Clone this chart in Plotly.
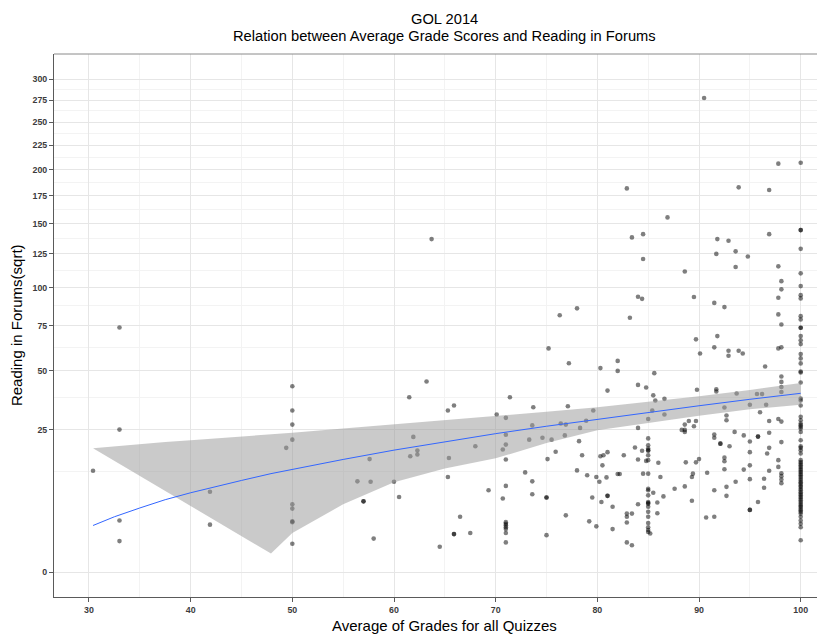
import numpy as np
import plotly.graph_objects as go

# ---------------- data (original units) ----------------
# columns of students sharing the same quiz average
reads_at_100 = [206.8, 144.4, 144.4, 129.0, 110.2, 101.0, 94.7, 92.5, 80.9, 78.8, 73.7, 73.7,
                68.8, 66.4, 64.2, 58.7, 56.4, 53.8, 49.7, 49.2, 44.4, 37.2, 36.4, 34.3, 29.8,
                28.5, 27.3, 26.7, 26.1, 25.5, 24.3, 21.5, 19.6, 19.1, 18.4, 17.4, 15.5, 15.0,
                14.6, 14.1, 13.7, 13.2, 12.8, 12.4, 12.0, 11.6, 11.2, 10.8, 10.4, 10.0, 9.7,
                9.3, 9.0, 8.6, 8.3, 7.9, 7.6, 7.3, 7.0, 6.7, 6.4, 6.1, 5.8, 5.5, 5.3, 5.0,
                4.75, 4.5, 4.25, 3.8, 3.3, 2.9, 2.5, 1.26]
reads_at_85 = [29.0, 22.1, 19.9, 18.9, 18.4, 18.2, 16.9, 15.5, 12.0, 8.6, 8.3, 7.3, 6.1, 5.9,
               5.8, 5.3, 4.5, 3.8, 3.0, 2.5, 2.2, 2.0]
reads_at_50 = [42.7, 32.3, 26.9, 21.7, 5.7, 5.0, 3.2, 3.1, 1.0]
reads_at_71 = [29.4, 23.3, 20.1, 15.7, 9.2, 3.1, 2.9, 2.73, 2.5, 2.3, 1.9, 1.1]
reads_at_98 = [104.5, 98.7, 75.7, 62.4, 47.3, 44.7, 42.3, 40.1, 28.0, 20.9, 12.1, 11.4, 10.6, 9.8]

other_grades = [30.4, 33.0, 33.0, 33.0, 33.0, 41.9, 41.9, 49.4,
                56.4, 57.6, 57.7, 60.0, 57.0, 57.0, 60.5, 58.0,
                61.5, 61.6, 61.9, 62.3, 62.3, 63.2, 63.7,
                64.5, 65.3, 65.3, 65.4, 65.9, 65.9, 65.9, 66.5, 67.5, 68.0, 69.3,
                70.1, 70.7, 70.7, 71.4,
                72.9, 73.3, 73.6, 73.7, 73.6, 73.6, 74.6, 75.0, 75.0, 75.0, 75.1, 75.2, 75.5, 75.9, 76.3,
                76.4, 76.8, 76.9, 76.9, 77.1, 77.2, 78.0, 78.0, 78.2, 78.3, 78.5, 78.9, 79.0, 79.2, 79.5, 79.6, 79.9, 79.9,
                80.2, 80.3, 80.3, 80.4, 80.5, 80.6, 80.9, 81.0, 81.0, 81.0, 81.0, 81.5, 81.5, 82.0, 82.0, 82.0, 82.2, 82.6,
                82.9, 82.9, 82.9, 82.9, 82.9, 83.2, 83.4, 83.4, 83.4, 83.7,
                84.0, 84.0, 84.0, 84.0, 84.0, 84.4, 84.4, 84.5, 84.5, 84.5, 84.8, 84.8,
                85.2, 85.4, 85.5, 85.5, 85.6, 85.7, 85.9, 85.9, 86.0, 86.2, 86.5, 86.6, 86.6, 86.9, 87.6,
                88.3, 88.6, 88.6, 88.6, 88.6, 88.6, 88.7, 89.0, 89.3, 89.3, 89.4, 89.5, 89.5, 89.7, 89.7, 89.7, 89.8, 90.0, 90.1,
                90.5, 90.7, 90.8, 91.5, 91.5, 91.5, 91.5, 91.5, 91.5, 91.7, 91.7, 91.7, 91.8, 91.8, 92.1, 92.1,
                92.5, 92.5, 92.5, 92.5, 92.5, 92.7, 92.7, 92.7, 92.7, 92.9, 92.9, 92.9, 93.0,
                93.6, 93.6, 93.5, 93.6, 93.7, 93.9, 93.9, 94.3, 94.4, 94.4, 94.8,
                95.0, 95.0, 95.0, 95.0, 95.0, 95.0, 95.0, 95.7, 95.8, 95.8, 95.8, 96.0, 96.2, 96.4, 96.4, 96.5, 96.6, 96.7,
                96.9, 96.9, 96.9, 96.9, 96.9, 96.9,
                97.8, 97.8, 97.8, 97.8, 97.8, 97.8, 97.8, 97.8]
other_reads = [12.7, 73.9, 25.1, 3.3, 1.2, 8.0, 2.8, 19.1,
               10.2, 15.8, 10.1, 10.1, 6.2, 6.2, 7.0, 1.4,
               37.8, 16.6, 22.6, 18.3, 17.1, 44.9, 136.9,
               0.8, 32.3, 11.2, 16.1, 34.3, 1.8, 1.8, 3.8, 1.9, 19.6, 8.3,
               30.7, 18.6, 6.7, 37.8,
               12.3, 21.7, 26.6, 33.6, 10.2, 7.5, 22.3, 6.9, 6.9, 1.7, 15.8, 61.8, 21.7, 17.9, 81.5,
               27.3, 23.1, 26.9, 4.0, 34.0, 53.9, 85.9, 12.8, 21.2, 25.7, 16.9, 28.3, 11.6, 3.2, 6.9, 32.3, 11.2, 2.6,
               10.1, 51.4, 16.6, 6.1, 14.1, 16.9, 11.1, 17.8, 7.2, 7.2, 40.7, 5.3, 2.3, 55.1, 50.0, 11.9, 11.9, 16.9,
               181.7, 4.25, 3.8, 3.05, 1.1, 79.9, 138.3, 4.25, 0.9, 19.2,
               93.6, 43.3, 25.7, 15.7, 5.7, 92.2, 18.2, 141.0, 121.0, 12.0, 42.1, 15.3,
               1.85, 32.3, 38.6, 7.8, 48.9, 36.4, 6.0, 4.3, 14.8, 11.2, 7.1, 37.1, 30.7, 155.3, 8.6,
               25.0, 111.6, 26.9, 25.0, 24.3, 9.1, 14.9, 28.2, 11.2, 6.3, 12.0, 93.4, 26.3, 66.9, 28.2, 14.9, 41.1, 15.8, 59.0,
               277.3, 3.7, 12.2, 89.5, 62.4, 23.4, 22.3, 8.3, 3.8, 125.0, 41.3, 40.3, 136.9, 68.8, 20.4, 20.4,
               86.7, 33.5, 16.2, 15.2, 13.1, 30.3, 28.5, 9.0, 7.2, 135.5, 60.5, 57.8, 19.6,
               127.0, 114.9, 24.3, 10.1, 39.4, 182.7, 60.5, 59.0, 23.1, 13.0, 123.0,
               34.6, 21.1, 17.8, 14.1, 10.7, 4.8, 4.8, 39.2, 22.7, 22.7, 6.1, 31.6, 39.2, 8.8, 10.8, 52.2, 34.6, 17.4,
               180.2, 141.0, 28.2, 24.0, 19.1, 12.7,
               205.9, 115.4, 92.9, 82.0, 61.8, 29.0, 15.5, 13.7]

# linear smooth and its confidence band (original units)
smooth_x = [30.4, 32.5, 35, 37.5, 40, 42.5, 45, 47.9, 50, 55, 60, 65, 70, 75, 80, 85, 90, 95, 100]
smooth_fit = [2.7, 3.8, 5.1, 6.5, 7.8, 9.1, 10.4, 12.0, 13.1, 15.7, 18.4, 21.0, 23.7, 26.3, 28.9,
              31.6, 34.2, 36.9, 39.5]
smooth_upper = [19.0, 19.6, 20.2, 20.9, 21.5, 22.1, 22.6, 23.3, 24.0, 25.5, 27.0, 28.5, 30.0, 31.8,
                33.6, 35.8, 38.2, 41.0, 44.2]
smooth_lower = [-13.6, -12.0, -10.0, -8.0, -5.9, -3.9, -1.8, 0.43, 1.9, 5.7, 10.0, 13.3, 16.0,
                20.6, 24.9, 27.4, 30.2, 32.8, 34.6]

x_ticks = [30, 40, 50, 60, 70, 80, 90, 100]
x_minor = [35, 45, 55, 65, 75, 85, 95]
y_ticks = [0, 25, 50, 75, 100, 125, 150, 175, 200, 225, 250, 275, 300]
y_minor = [12.5, 37.5, 62.5, 87.5, 112.5, 137.5, 162.5, 187.5, 212.5, 237.5, 262.5, 287.5]

# ---------------- assemble ----------------
grades = ([100.0] * len(reads_at_100) + [85.0] * len(reads_at_85) + [50.0] * len(reads_at_50)
          + [71.0] * len(reads_at_71) + [98.1] * len(reads_at_98) + other_grades)
reads = reads_at_100 + reads_at_85 + reads_at_50 + reads_at_71 + reads_at_98 + other_reads

sq = np.sqrt  # square-root y scale (coord_trans)

fig = go.Figure()
fig.add_trace(go.Scatter(
    x=grades, y=sq(np.array(reads)), mode="markers",
    marker=dict(size=4.6, color="rgba(0,0,0,0.5)", line=dict(width=0)),
    hoverinfo="skip"))

# band: negative lower bounds are undefined on the sqrt scale and dropped
low_pts = [(x, v) for x, v in zip(smooth_x, smooth_lower) if v >= 0]
band_x = list(smooth_x) + [p[0] for p in reversed(low_pts)]
band_y = list(sq(np.array(smooth_upper))) + [float(sq(p[1])) for p in reversed(low_pts)]
fig.add_trace(go.Scatter(
    x=band_x, y=band_y, mode="lines", fill="toself",
    fillcolor="rgba(153,153,153,0.52)", line=dict(width=0), hoverinfo="skip"))
fig.add_trace(go.Scatter(
    x=smooth_x, y=sq(np.array(smooth_fit)), mode="lines",
    line=dict(color="#3366FF", width=1), hoverinfo="skip"))

FONT = "Liberation Sans, Arial, sans-serif"
tickfont = dict(family=FONT, size=8.8, color="#3c3c3c", weight="bold")

# the page body has an 8px margin, so the figure is 8px smaller than the window
fig.update_layout(
    width=817, height=631,
    margin=dict(l=46, r=0, t=46, b=42),
    plot_bgcolor="white", paper_bgcolor="white",
    showlegend=False,
    font=dict(family=FONT),
    xaxis=dict(
        range=[26.56, 102.39], tickmode="array", tickvals=x_ticks,
        ticktext=[str(v) for v in x_ticks], automargin=False,
        ticks="outside", ticklen=4, tickcolor="#5a5a5a", tickwidth=1,
        showline=True, linecolor="#5a5a5a", linewidth=1,
        showgrid=True, gridcolor="#e6e6e6", gridwidth=1, zeroline=False,
        minor=dict(tickmode="array", tickvals=x_minor, showgrid=True,
                   gridcolor="#f3f3f3", gridwidth=0.7, ticklen=0),
        tickfont=tickfont),
    yaxis=dict(
        range=[-0.868, 18.2], tickmode="array", tickvals=list(sq(np.array(y_ticks, dtype=float))),
        ticktext=[str(v) for v in y_ticks], automargin=False,
        ticks="outside", ticklen=4, tickcolor="#5a5a5a", tickwidth=1,
        showline=True, linecolor="#5a5a5a", linewidth=1,
        showgrid=True, gridcolor="#e6e6e6", gridwidth=1, zeroline=False,
        minor=dict(tickmode="array", tickvals=list(sq(np.array(y_minor))), showgrid=True,
                   gridcolor="#f3f3f3", gridwidth=0.7, ticklen=0),
        tickfont=tickfont),
    shapes=[dict(type="line", xref="paper", yref="paper", x0=0, x1=1, y0=1, y1=1,
                 line=dict(color="#8a8a8a", width=1))],
    annotations=[
        dict(text="GOL 2014", xref="paper", yref="paper", x=0.5062, y=1.0637,
             xanchor="center", yanchor="middle", showarrow=False,
             font=dict(family=FONT, size=14.7, color="black")),
        dict(text="Relation between Average Grade Scores and Reading in Forums",
             xref="paper", yref="paper", x=0.5062, y=1.0337,
             xanchor="center", yanchor="middle", showarrow=False,
             font=dict(family=FONT, size=14.7, color="black")),
        dict(text="Average of Grades for all Quizzes", xref="paper", yref="paper",
             x=0.5065, y=-0.0534, xanchor="center", yanchor="middle", showarrow=False,
             font=dict(family=FONT, size=15, color="black")),
        dict(text="Reading in Forums(sqrt)", xref="paper", yref="paper",
             x=-0.0485, y=0.5, xanchor="center", yanchor="middle", showarrow=False,
             borderpad=0, textangle=-90, font=dict(family=FONT, size=15, color="black")),
    ],
)

fig.write_html("out.html")
